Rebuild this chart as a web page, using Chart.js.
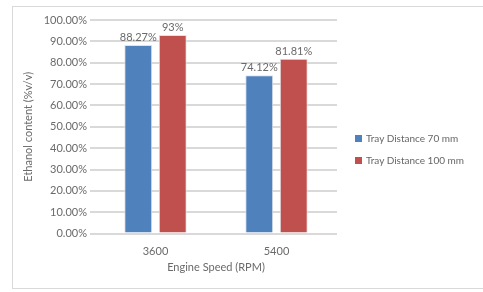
<!DOCTYPE html>
<html><head><meta charset="utf-8">
<script src="https://cdn.jsdelivr.net/npm/chart.js@4"></script>
<style>
html,body{margin:0;padding:0;background:#fff;}
#wrap{position:relative;width:483px;height:292px;}
#frame{position:absolute;left:12px;top:6px;width:480px;height:283px;border:1px solid #d9d9d9;box-sizing:border-box;}
canvas{position:absolute;left:0;top:0;}
#legend{position:absolute;left:355px;top:131px;font:10px Lato, 'Open Sans', sans-serif;color:#666;}
#legend div{height:22px;line-height:14px;white-space:nowrap;}
#legend span.sw{display:inline-block;width:7px;height:7px;margin-right:4px;vertical-align:0px;}
</style></head>
<body><div id="wrap"><div id="frame"></div><canvas id="c" width="483" height="292"></canvas>
<div id="legend"></div></div>
<script>
const categories = ['3600', '5400'];
const seriesNames = ['Tray Distance 70 mm', 'Tray Distance 100 mm'];
const tray70 = [88.27, 74.12];
const tray100 = [93, 81.81];
const labels70 = ['88.27%', '74.12%'];
const labels100 = ['93%', '81.81%'];
const colors = ['#4F81BD', '#C0504D'];
const yTitle = 'Ethanol content (%v/v)';
const xTitle = 'Engine Speed (RPM)';

const lg = document.getElementById('legend');
seriesNames.forEach((n,i)=>{
  const d=document.createElement('div');
  d.innerHTML='<span class="sw" style="background:'+colors[i]+'"></span>'+n;
  lg.appendChild(d);
});

const font = {family:"Lato, 'Open Sans', sans-serif", size:11};
const txt = '#6a6a6a';
const valLabels = {
  id:'valLabels',
  afterDatasetsDraw(chart){
    const ctx=chart.ctx; ctx.save();
    ctx.font="11px Lato, 'Open Sans', sans-serif"; ctx.fillStyle=txt;
    ctx.textAlign='center'; ctx.textBaseline='bottom';
    const all=[labels70,labels100];
    chart.data.datasets.forEach((ds,di)=>{
      chart.getDatasetMeta(di).data.forEach((bar,i)=>{
        ctx.fillText(all[di][i], bar.x, bar.y-2);
      });
    });
    ctx.restore();
  }
};
new Chart(document.getElementById('c'), {
  type:'bar',
  data:{labels:categories, datasets:[
    {label:seriesNames[0], data:tray70, backgroundColor:colors[0], borderColor:'#e2e2e2', borderWidth:1},
    {label:seriesNames[1], data:tray100, backgroundColor:colors[1], borderColor:'#e2e2e2', borderWidth:1}
  ]},
  options:{
    responsive:false, animation:false,
    categoryPercentage:0.57, barPercentage:0.81,
    layout:{padding:{left:22,right:146,top:20,bottom:18}},
    plugins:{legend:{display:false}, tooltip:{enabled:false}},
    scales:{
      x:{grid:{display:false}, border:{display:false},
         ticks:{color:txt, font:font, padding:3},
         title:{display:true, text:xTitle, color:txt, font:font, padding:{top:0,bottom:0}}},
      y:{min:0, max:100, afterFit(s){s.width=73;},
         grid:{color:'#d9d9d9', lineWidth:2, tickLength:5}, border:{display:false},
         ticks:{stepSize:10, color:txt, font:font, padding:3, callback:v=>v.toFixed(2)+'%'},
         title:{display:true, text:yTitle, color:txt, font:font, padding:0}}
    }
  },
  plugins:[valLabels]
});
</script></body></html>
